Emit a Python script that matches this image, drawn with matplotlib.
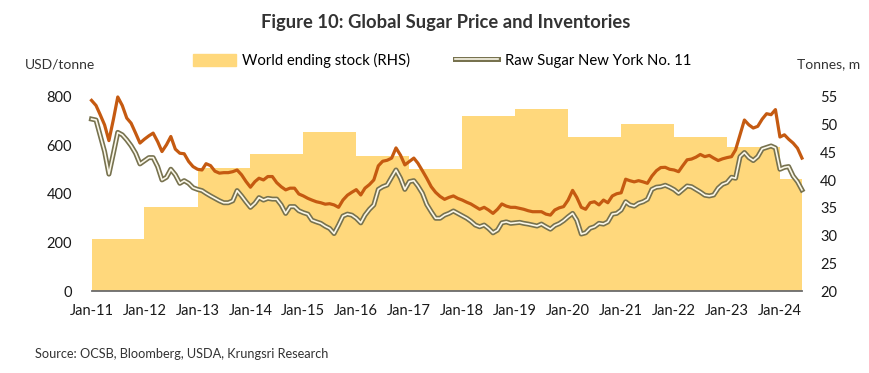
import numpy as np
import pandas as pd
import matplotlib
matplotlib.use("Agg")
import matplotlib.pyplot as plt
import matplotlib.dates as mdates
from matplotlib.lines import Line2D
from matplotlib.patches import Patch

plt.rcParams["font.family"] = ["Lato", "DejaVu Sans"]

# monthly prices, Jan-2011 .. Jun-2024 (USD/tonne)
white_sugar = [
    786, 765, 728, 685, 620, 708, 800, 765, 713, 692, 651, 610,
    626, 640, 651, 616, 575, 603, 637, 585, 568, 566, 534, 513,
    502, 499, 525, 517, 494, 486, 488, 488, 492, 499, 479, 452,
    428, 451, 465, 458, 472, 472, 447, 430, 417, 424, 424, 400,
    392, 382, 375, 368, 364, 358, 360, 355, 345, 375, 395, 407,
    418, 396, 424, 439, 458, 516, 535, 539, 548, 590, 560, 520,
    534, 548, 527, 496, 465, 430, 407, 390, 378, 386, 392, 382,
    375, 366, 359, 348, 337, 345, 334, 320, 337, 359, 350, 345,
    345, 341, 337, 331, 327, 327, 327, 317, 313, 334, 343, 348,
    375, 415, 386, 345, 337, 364, 368, 355, 375, 364, 392, 401,
    405, 461, 455, 450, 455, 450, 444, 474, 496, 509, 510, 502,
    499, 492, 516, 541, 544, 552, 563, 554, 559, 548, 538, 545,
    550, 554, 582, 644, 705, 685, 672, 679, 709, 731, 727, 748,
    635, 644, 626, 610, 589, 548,
]
raw_sugar = [
    709, 705, 644, 575, 482, 568, 654, 644, 623, 599, 568, 524,
    537, 550, 550, 513, 458, 469, 502, 479, 444, 455, 444, 426,
    419, 414, 403, 392, 382, 372, 364, 364, 372, 414, 392, 368,
    345, 362, 385, 375, 382, 379, 379, 355, 320, 348, 348, 331,
    323, 317, 292, 285, 279, 267, 258, 237, 272, 309, 317, 313,
    300, 281, 313, 337, 355, 419, 430, 437, 469, 499, 465, 419,
    451, 455, 433, 403, 357, 327, 300, 300, 313, 320, 330, 320,
    310, 300, 288, 272, 265, 272, 258, 240, 251, 281, 285, 279,
    281, 283, 279, 276, 272, 268, 276, 265, 255, 270, 278, 290,
    306, 320, 292, 235, 240, 259, 265, 279, 276, 285, 317, 320,
    334, 368, 355, 350, 362, 368, 378, 419, 428, 430, 436, 428,
    418, 403, 417, 433, 430, 419, 408, 395, 392, 396, 424, 440,
    447, 469, 465, 554, 571, 550, 538, 554, 586, 592, 598, 590,
    502, 510, 513, 474, 451, 417,
]
# world ending stock by year (tonnes, m)
stock_years = list(range(2011, 2025))
stock = [29.4, 35.2, 42.2, 44.7, 48.7, 44.4, 42.0, 51.5, 52.8, 47.8, 50.2, 47.7, 46.0, 40.2]

dates = pd.date_range("2011-01-01", periods=len(raw_sugar), freq="MS")

fig = plt.figure(figsize=(8.7, 3.73), dpi=100)
ax = fig.add_axes([0.1052, 0.2198, 0.8166, 0.5202])
ax2 = ax.twinx()

# stock steps on the right axis
step_x = [pd.Timestamp(f"{y}-01-01") for y in stock_years] + [dates[-1]]
step_y = stock + [stock[-1]]
ax2.fill_between(step_x, 20, step_y, step="post", color="#ffd87c", lw=0)
ax2.set_ylim(20, 55)
ax2.set_yticks(np.arange(20, 56, 5))

ax.set_zorder(ax2.get_zorder() + 1)
ax.patch.set_visible(False)

ax.plot(dates, white_sugar, color="#c55a11", lw=2.3, clip_on=False, solid_joinstyle="round")
ax.plot(dates, raw_sugar, color="#77724f", lw=3.6, clip_on=False, solid_joinstyle="round")
ax.plot(dates, raw_sugar, color="#fbf8ea", lw=1.2, clip_on=False, solid_joinstyle="round")

ax.set_ylim(0, 800)
ax.set_yticks(np.arange(0, 801, 200))
ax.set_xlim(dates[0], dates[-1])
ax.xaxis.set_major_locator(mdates.YearLocator())
ax.xaxis.set_major_formatter(mdates.DateFormatter("%b-%y"))

for a in (ax, ax2):
    for s in a.spines.values():
        s.set_visible(False)
    a.tick_params(length=0, labelsize=10.5, colors="#1a1a1a")
ax.spines["bottom"].set_visible(True)
ax.spines["bottom"].set_color("#6b6b6b")
ax.spines["bottom"].set_linewidth(1.3)
ax.tick_params(axis="y", pad=14)
ax.tick_params(axis="x", pad=9)
ax2.tick_params(axis="y", pad=13)

fig.text(0.512, 0.94, "Figure 10: Global Sugar Price and Inventories",
         ha="center", va="center", fontsize=13.2, fontweight="bold", color="#333333")
fig.text(0.029, 0.828, "USD/tonne", ha="left", va="center", fontsize=10, color="#333333")
fig.text(0.916, 0.828, "Tonnes, m", ha="left", va="center", fontsize=10, color="#333333")
fig.text(0.04, 0.052, "Source: OCSB, Bloomberg, USDA, Krungsri Research",
         ha="left", va="center", fontsize=9.2, color="#333333")

h_stock = Patch(color="#ffd87c")
h_raw = (Line2D([], [], color="#77724f", lw=3.6), Line2D([], [], color="#fbf8ea", lw=1.2))
fig.legend([h_stock, h_raw], ["World ending stock (RHS)", "Raw Sugar New York No. 11"],
           loc="center", bbox_to_anchor=(0.508, 0.838), ncol=2, frameon=False,
           fontsize=10.7, handlelength=2.9, handleheight=0.9, handletextpad=0.45,
           columnspacing=3.0)

fig.savefig("out.png", dpi=100)
